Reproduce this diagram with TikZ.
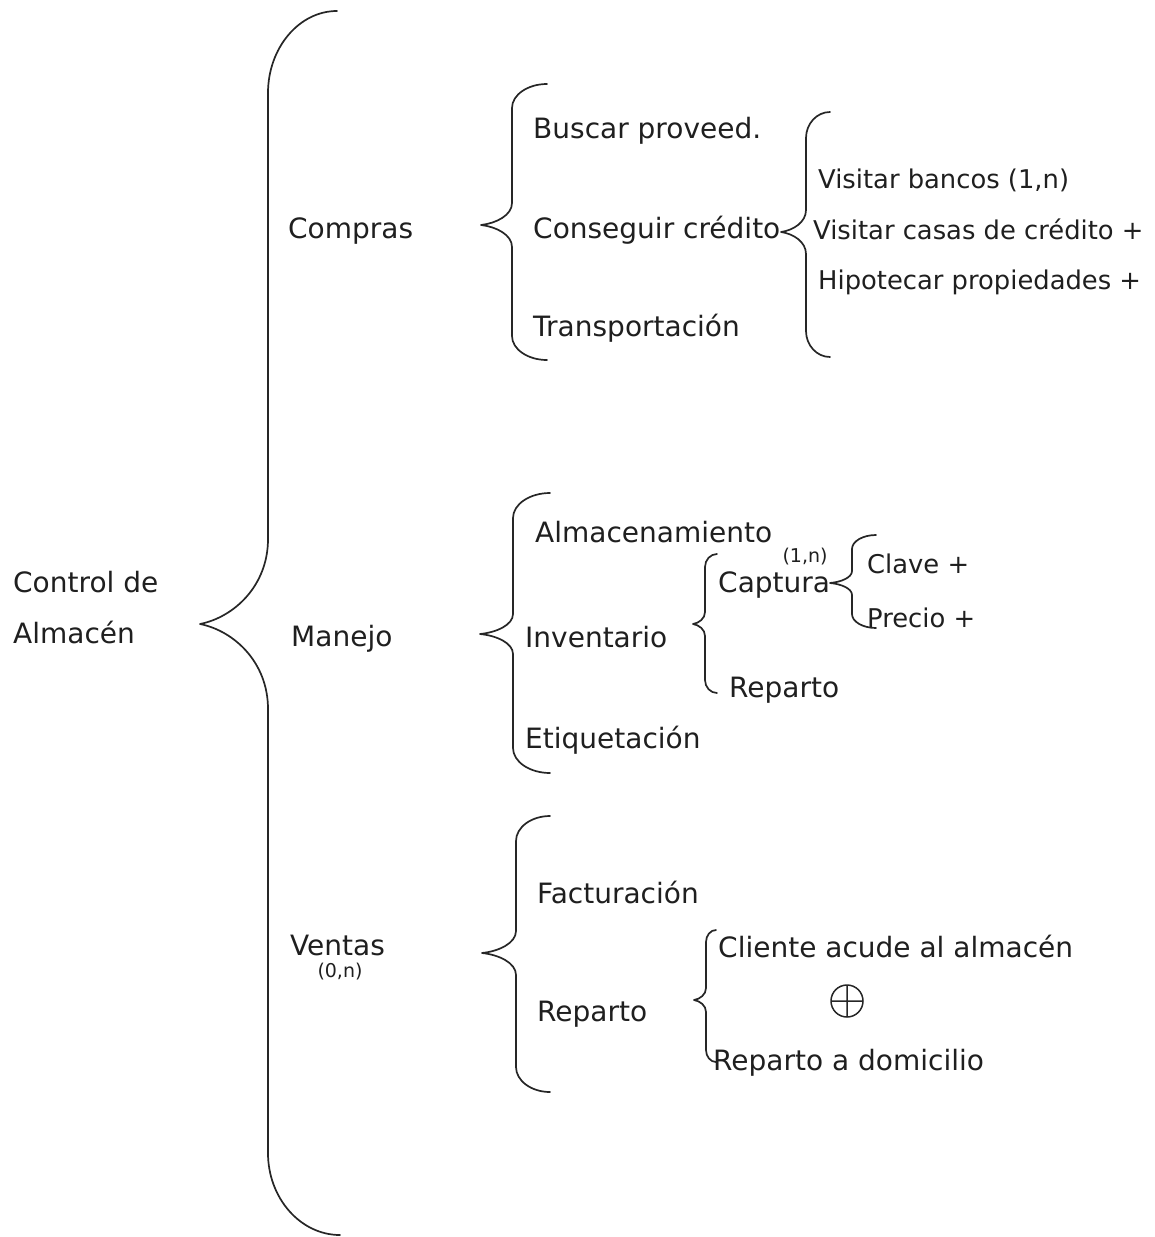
\documentclass[tikz,border=0pt]{standalone}
\usepackage{fontspec}
\usetikzlibrary{calc}
\setmainfont{DejaVu Sans}
\begin{document}
\begin{tikzpicture}[x=1pt,y=-1pt,
  lbl/.style={anchor=base west,inner sep=0pt,text=black!88,font=\fontsize{28}{30}\selectfont},
  sublbl/.style={lbl,font=\fontsize{25.8}{28}\selectfont},
  card/.style={anchor=base,inner sep=0pt,text=black!88,font=\fontsize{19}{20}\selectfont},
  bracestyle/.style={draw=black!85,line width=1.7pt,line join=round,line cap=round}]
\useasboundingbox (0,0) rectangle (1155,1237);

% curly brace: top end (#1,#2), spine x #3, tip (#4,#5), bottom y #6, bottom end x #7,
% end bend #8, tip bend #9
\newcommand\drawbrace[9]{%
  \draw[bracestyle] (#1,#2)
    .. controls ({#3+0.45*(#1-#3)},#2) and (#3,{#2+0.45*#8}) .. (#3,{#2+#8})
    -- (#3,{#5-#9})
    .. controls (#3,{#5-0.45*#9}) and ({#4+0.5*(#3-#4)},{#5-0.08*#9}) .. (#4,#5)
    .. controls ({#4+0.5*(#3-#4)},{#5+0.08*#9}) and (#3,{#5+0.45*#9}) .. (#3,{#5+#9})
    -- (#3,{#6-#8})
    .. controls (#3,{#6-0.45*#8}) and ({#3+0.45*(#7-#3)},#6) .. (#7,#6);}

% root
\node[lbl] (root1) at (13,592) {Control de};
\node[lbl] (root2) at (13,643) {Almacén};
\drawbrace{337}{11}{268}{200}{624}{1235}{340}{82}{85}

% first level
\node[lbl] (compras) at (288,238) {Compras};
\node[lbl] (manejo) at (291,646) {Manejo};
\node[lbl] (ventas) at (290,955) {Ventas};
\node[card] (ventascard) at (340,977) {(0,n)};

% Compras
\drawbrace{547}{84}{512}{481}{225}{360}{547}{24}{22}
\node[lbl] (buscar) at (533,138) {Buscar proveed.};
\node[lbl] (credito) at (533,238) {Conseguir crédito};
\node[lbl] (transp) at (533,336) {Transportación};

\drawbrace{830}{112}{806}{781}{232}{357}{830}{26}{22}
\node[sublbl] (bancos) at (818,188) {Visitar bancos (1,n)};
\node[sublbl] (casas) at (813,239) {Visitar casas de crédito +};
\node[sublbl] (hipot) at (818,289) {Hipotecar propiedades +};

% Manejo
\drawbrace{550}{493}{513}{480}{634}{773}{550}{25}{20}
\node[lbl] (almac) at (535,542) {Almacenamiento};
\node[lbl] (invent) at (525,647) {Inventario};
\node[lbl] (etiq) at (525,748) {Etiquetación};

\drawbrace{717}{554}{705}{693}{624}{693}{717}{13}{12}
\node[lbl] (captura) at (718,592) {Captura};
\node[card] (capcard) at (805,562) {(1,n)};
\node[lbl] (repinv) at (729,697) {Reparto};

\drawbrace{876}{535}{852}{830}{583}{628}{876}{14}{12}
\node[sublbl] (clave) at (867,573) {Clave +};
\node[sublbl] (precio) at (867,627) {Precio +};

% Ventas
\drawbrace{550}{816}{516}{482}{953}{1092}{550}{25}{22}
\node[lbl] (factur) at (537,903) {Facturación};
\node[lbl] (repvta) at (537,1021) {Reparto};

\drawbrace{716}{930}{706}{694}{1000}{1062}{716}{12}{12}
\node[lbl] (cliente) at (718,957) {Cliente acude al almacén};
\node[lbl] (domic) at (713,1070) {Reparto a domicilio};

% exclusive-or mark between the two delivery options
\coordinate (xor) at (847,1001);
\draw[draw=black!85,line width=1.5pt] (xor) circle (16)
  ($(xor)+(-16,0)$) -- ($(xor)+(16,0)$)
  ($(xor)+(0,-16)$) -- ($(xor)+(0,16)$);
\end{tikzpicture}
\end{document}
